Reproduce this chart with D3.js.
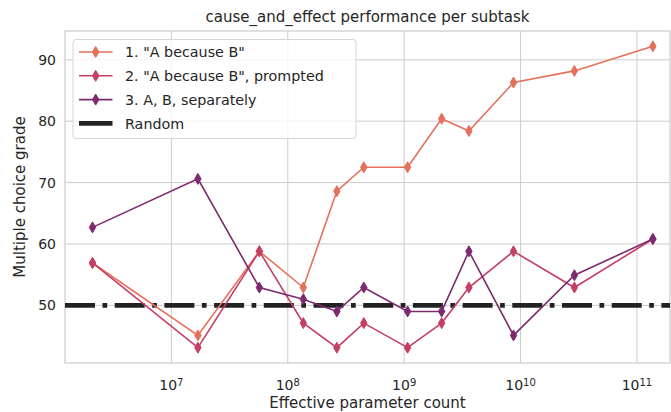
<!DOCTYPE html>
<html>
<head>
<meta charset="utf-8">
<script src="https://cdn.jsdelivr.net/npm/d3@7"></script>
<style>
  body { margin: 0; background: #fff; }
  text { font-family: "DejaVu Sans", sans-serif; fill: #262626; }
</style>
</head>
<body>
<script>
// data
var params = [2.1e6, 1.69e7, 5.7e7, 1.36e8, 2.64e8, 4.5e8, 1.07e9, 2.1e9, 3.6e9, 8.7e9, 2.9e10, 1.37e11]
var seriesNames = ['1. "A because B"', '2. "A because B", prompted', '3. A, B, separately']
var becauseB = [56.9, 45.1, 58.8, 52.9, 68.6, 72.5, 72.5, 80.4, 78.4, 86.3, 88.2, 92.2]
var prompted = [56.9, 43.1, 58.8, 47.1, 43.1, 47.1, 43.1, 47.1, 52.9, 58.8, 52.9, 60.8]
var separately = [62.7, 70.6, 52.9, 51.0, 49.0, 52.9, 49.0, 49.0, 58.8, 45.1, 54.9, 60.8]
var randomLevel = 50
var yTicks = [50, 60, 70, 80, 90]
var xTicks = [1e7, 1e8, 1e9, 1e10, 1e11]
var colors = ['#e5705b', '#c53f65', '#7d2a6f']

var W = 671, H = 412
var margin = {top: 31, right: 1, bottom: 49, left: 65}
var w = W - margin.left - margin.right
var h = H - margin.top - margin.bottom

var svg = d3.select('body').append('svg')
	.attr('width', W)
	.attr('height', H)
var g = svg.append('g')
	.attr('transform', 'translate(' + margin.left + ',' + margin.top + ')')

// scales
var x = d3.scaleLog()
	.domain([Math.pow(10, 6.086), Math.pow(10, 11.284)])
	.range([0, w])
var y = d3.scaleLinear()
	.domain([40.6, 94.7])
	.range([h, 0])

// grid
g.selectAll('.ygrid').data(yTicks).enter().append('line')
	.attr('x1', 0).attr('x2', w)
	.attr('y1', function (d) { return y(d) }).attr('y2', function (d) { return y(d) })
	.attr('stroke', '#cccccc').attr('stroke-width', 1)
g.selectAll('.xgrid').data(xTicks).enter().append('line')
	.attr('y1', 0).attr('y2', h)
	.attr('x1', function (d) { return x(d) }).attr('x2', function (d) { return x(d) })
	.attr('stroke', '#cccccc').attr('stroke-width', 1)

// spines
g.append('rect')
	.attr('x', 0).attr('y', 0).attr('width', w).attr('height', h)
	.attr('fill', 'none').attr('stroke', '#cccccc').attr('stroke-width', 1.2)

// y tick labels
g.selectAll('.ytick').data(yTicks).enter().append('text')
	.attr('x', -9)
	.attr('y', function (d) { return y(d) })
	.attr('dy', '0.36em')
	.style('text-anchor', 'end')
	.style('font-size', '14px')
	.text(function (d) { return d })

// x tick labels with exponents
var xl = g.selectAll('.xtick').data(xTicks).enter().append('text')
	.attr('x', function (d) { return x(d) })
	.attr('y', h + 27)
	.style('text-anchor', 'middle')
	.style('font-size', '14px')
xl.append('tspan').text('10')
xl.append('tspan')
	.attr('dy', '-0.45em')
	.style('font-size', '10px')
	.text(function (d) { return Math.round(Math.log10(d)) })

// axis labels + title
svg.append('text')
	.attr('x', margin.left + w / 2)
	.attr('y', H - 4)
	.style('text-anchor', 'middle')
	.style('font-size', '15px')
	.text('Effective parameter count')
svg.append('text')
	.attr('transform', 'translate(25,' + (margin.top + h / 2) + ') rotate(-90)')
	.style('text-anchor', 'middle')
	.style('font-size', '15px')
	.text('Multiple choice grade')
svg.append('text')
	.attr('x', margin.left + w / 2)
	.attr('y', 22)
	.style('text-anchor', 'middle')
	.style('font-size', '15px')
	.text('cause_and_effect performance per subtask')

// random baseline
g.append('line')
	.attr('x1', 0).attr('x2', w)
	.attr('y1', y(randomLevel)).attr('y2', y(randomLevel))
	.attr('stroke', '#222222')
	.attr('stroke-width', 4.7)
	.attr('stroke-dasharray', '30,7.5,4.7,7.5')

// series
var allSeries = [becauseB, prompted, separately]
var line = d3.line()
	.x(function (d, i) { return x(params[i]) })
	.y(function (d) { return y(d) })
var diamond = 'M0,-5.5 L3.2,0 L0,5.5 L-3.2,0 Z'

allSeries.forEach(function (vals, k) {
	g.append('path')
		.datum(vals)
		.attr('d', line)
		.attr('fill', 'none')
		.attr('stroke', colors[k])
		.attr('stroke-width', 1.6)
	g.selectAll('.m' + k).data(vals).enter().append('path')
		.attr('d', diamond)
		.attr('transform', function (d, i) { return 'translate(' + x(params[i]) + ',' + y(d) + ')' })
		.attr('fill', colors[k])
		.attr('stroke', colors[k])
		.attr('stroke-width', 1)
})

// legend
var lg = svg.append('g').attr('transform', 'translate(73,39.5)')
lg.append('rect')
	.attr('width', 283).attr('height', 99)
	.attr('rx', 3)
	.attr('fill', 'rgba(255,255,255,0.8)')
	.attr('stroke', '#d6d6d6')
	.attr('stroke-width', 1)
var labels = seriesNames.concat(['Random'])
labels.forEach(function (name, k) {
	var ly = 12.5 + k * 23.8
	if (k < 3) {
		lg.append('line')
			.attr('x1', 6).attr('x2', 39.5)
			.attr('y1', ly).attr('y2', ly)
			.attr('stroke', colors[k]).attr('stroke-width', 1.6)
		lg.append('path')
			.attr('d', diamond)
			.attr('transform', 'translate(22.7,' + ly + ')')
			.attr('fill', colors[k]).attr('stroke', colors[k]).attr('stroke-width', 1)
	} else {
		lg.append('line')
			.attr('x1', 6).attr('x2', 39.5)
			.attr('y1', ly).attr('y2', ly)
			.attr('stroke', '#222222').attr('stroke-width', 4.7)
	}
	lg.append('text')
		.attr('x', 52)
		.attr('y', ly)
		.attr('dy', '0.36em')
		.style('font-size', '14.3px')
		.text(name)
})
</script>
</body>
</html>
